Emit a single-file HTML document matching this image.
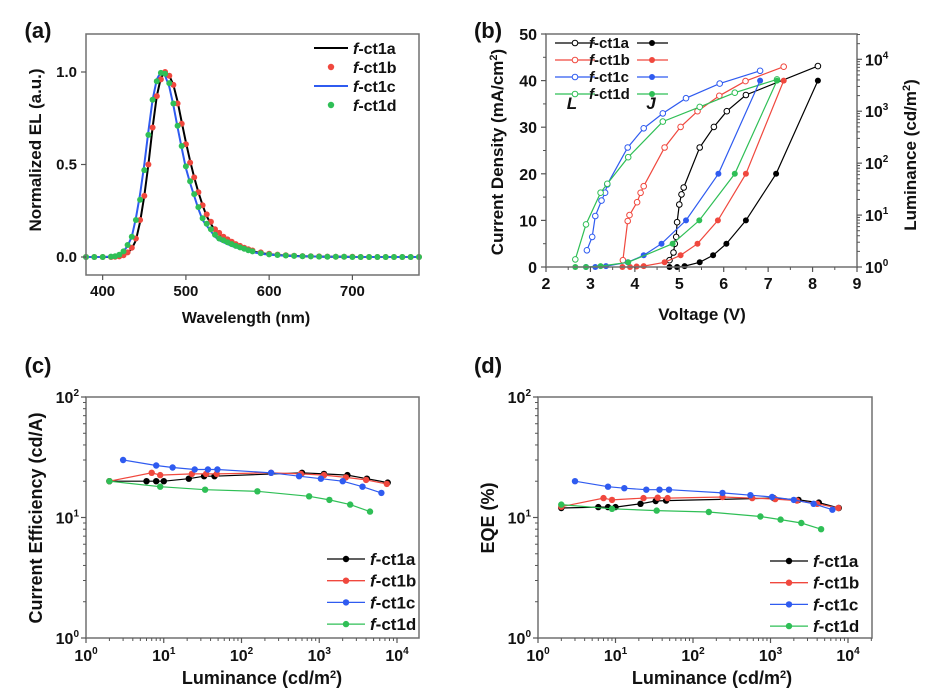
<!DOCTYPE html>
<html><head><meta charset="utf-8"><style>
body{margin:0;background:#fff;}
svg text{font-family:"Liberation Sans",Arial,sans-serif;font-weight:bold;}
</style></head><body>
<svg id="fig" width="940" height="694" viewBox="0 0 940 694" xmlns="http://www.w3.org/2000/svg"></svg>
<script>
// ---- Panel (a) data ----
const wlA=[380,390,400,410,415,420,425,430,435,440,445,450,455,460,465,470,475,480,485,490,495,500,505,510,515,520,525,530,535,540,545,550,555,560,565,570,575,580,590,600,610,620,630,640,650,660,670,680,690,700,710,720,730,740,750,760,770,780];
const elRed=[0,0,0,0,0.001,0.003,0.01,0.025,0.05,0.1,0.2,0.33,0.5,0.7,0.87,0.96,1.0,0.98,0.93,0.83,0.72,0.61,0.51,0.43,0.35,0.28,0.23,0.19,0.15,0.13,0.11,0.095,0.082,0.07,0.06,0.05,0.042,0.035,0.025,0.018,0.013,0.01,0.007,0.005,0.004,0.003,0.002,0.0015,0.001,0.001,0,0,0,0,0,0,0,0];
const elBlack=[0,0,0,0,0.001,0.003,0.01,0.022,0.045,0.09,0.19,0.33,0.5,0.7,0.87,0.97,1.0,0.98,0.93,0.84,0.73,0.62,0.52,0.43,0.35,0.28,0.22,0.18,0.14,0.12,0.1,0.085,0.072,0.062,0.052,0.044,0.037,0.03,0.021,0.015,0.011,0.008,0.006,0.004,0.003,0.002,0.0015,0.001,0.001,0,0,0,0,0,0,0,0,0];
const elGreen=[0,0,0,0.002,0.004,0.012,0.03,0.065,0.11,0.2,0.31,0.47,0.66,0.85,0.95,0.995,0.99,0.94,0.83,0.71,0.6,0.49,0.41,0.34,0.27,0.21,0.18,0.15,0.12,0.1,0.09,0.08,0.07,0.06,0.052,0.045,0.037,0.03,0.02,0.014,0.011,0.008,0.006,0.004,0.003,0.002,0.0015,0.001,0.001,0,0,0,0,0,0,0,0,0];
const elBlue=[0,0,0,0.002,0.004,0.012,0.03,0.06,0.11,0.21,0.34,0.5,0.68,0.85,0.96,1.0,0.98,0.92,0.82,0.7,0.59,0.48,0.4,0.33,0.26,0.2,0.17,0.14,0.11,0.09,0.08,0.07,0.06,0.052,0.045,0.039,0.033,0.027,0.018,0.013,0.01,0.007,0.005,0.004,0.003,0.002,0.0015,0.001,0.001,0,0,0,0,0,0,0,0,0];
const xTicksA=[400,500,600,700];
const yTicksA=[0.0,0.5,1.0];
// ---- Panel (b) data ----
const vJa=[4.78,4.95,5.12,5.46,5.76,6.06,6.5,7.18,8.12], jA=[0,0,0.2,1,2.5,5,10,20,40];
const vJb=[3.72,3.89,4.04,4.2,4.67,5.03,5.41,5.87,6.5,7.35], jB=[0,0,0.1,0.2,1,2.5,5,10,20,40];
const vJc=[2.9,3.11,3.35,3.84,4.2,4.6,5.15,5.88,6.82], jC=[0,0,0.2,1,2.5,5,10,20,40];
const vJd=[2.66,2.9,3.23,3.85,4.85,5.45,6.25,7.2], jD=[0,0,0.2,1,5,10,20,40];
const vLa=[4.78,4.87,4.9,4.93,4.95,5.0,5.05,5.1,5.46,5.78,6.07,6.5,8.12], lA=[1.35,1.9,2.8,3.8,7.3,16,25,34,200,500,1000,2050,7400];
const vLb=[3.73,3.84,3.88,4.05,4.13,4.2,4.67,5.03,5.41,5.9,6.49,7.35], lB=[1.35,7.7,10,17.7,26.8,36,200,500,1000,1980,3800,7200];
const vLc=[2.92,3.04,3.11,3.25,3.33,3.38,3.84,4.2,4.63,5.15,5.91,6.82], lC=[2.1,3.8,9.6,19,27,39,200,470,910,1780,3400,6000];
const vLd=[2.66,2.9,3.23,3.38,3.85,4.63,5.46,6.25,7.2], lD=[1.4,6.6,27,40,130,630,1210,2270,4100];
const xTicksB=[2,3,4,5,6,7,8,9];
const yTicksB=[0,10,20,30,40,50];
// ---- Panel (c) data ----
const ceLa=[2,6,8,10,21,33,45,600,1150,2300,4100,7600], ceA=[20,20,20,20,21,22,22,23.5,23,22.5,21,19.5];
const ceLb=[2,7,9,23,35,48,240,580,1150,2200,4000,7400], ceB=[20,23.5,22.5,23,23,23,23.5,23,22.5,21.5,20.5,19];
const ceLc=[3,8,13,25,37,49,240,550,1050,2000,3600,6300], ceC=[30,27,26,25,25,25,23.5,22,21,20,18,16];
const ceLd=[2,9,34,160,740,1350,2500,4500], ceD=[20,18,17,16.5,15,14,12.8,11.2];
// ---- Panel (d) data ----
const eqLa=[2,6,8,10,21,33,45,1100,2300,4200,7600], eqA=[12,12.2,12.2,12.2,13,13.7,13.8,14.5,14,13.3,12];
const eqLb=[2,7,9,23,35,47,240,580,1150,2200,4000,7500], eqB=[12.3,14.5,14,14.5,14.6,14.5,14.8,14.5,14.2,13.8,13,12];
const eqLc=[3,8,13,25,37,49,240,550,1050,2000,3600,6300], eqC=[20,18,17.5,17,17,17,16,15.3,14.8,14,13,11.6];
const eqLd=[2,9,34,160,740,1350,2500,4500], eqD=[12.8,11.8,11.4,11.1,10.2,9.6,9,8];
const series=["f-ct1a","f-ct1b","f-ct1c","f-ct1d"];

const NS="http://www.w3.org/2000/svg";
const svg=document.getElementById('fig');
const C={a:"#000000",b:"#f0483e",c:"#2f5bf0",d:"#2fbf56"};
function el(tag,attrs,parent,name){
  const e=document.createElementNS(NS,tag);
  for(const k in attrs)e.setAttribute(k,attrs[k]);
  
  
  (parent||svg).appendChild(e);return e;
}
function txt(x,y,s,size,anchor,parent,name,extra){
  const t=el('text',Object.assign({x:x,y:y,'font-size':size,'text-anchor':anchor||'middle',fill:'#111'},extra||{}),parent,name);
  t.innerHTML=s;return t;
}
function lin(d0,d1,p0,p1){return v=>p0+(v-d0)/(d1-d0)*(p1-p0);}
function lg(d0,d1,p0,p1){return v=>p0+(Math.log10(v)-d0)/(d1-d0)*(p1-p0);}
function frame(g,x0,y0,x1,y1){el('rect',{x:x0,y:y0,width:x1-x0,height:y1-y0,fill:'none',stroke:'#707070','stroke-width':1.5},g,'plot-frame');}
function poly(g,xs,ys,fx,fy,col,w,name){
  const pts=xs.map((v,i)=>fx(v).toFixed(1)+','+fy(ys[i]).toFixed(1)).join(' ');
  el('polyline',{points:pts,fill:'none',stroke:col,'stroke-width':w},g,name);
}
function dots(g,xs,ys,fx,fy,col,r,open,name){
  xs.forEach((v,i)=>{el('circle',{cx:fx(v).toFixed(1),cy:fy(ys[i]).toFixed(1),r:r,fill:open?'#fff':col,stroke:col,'stroke-width':open?1:0},g,name);});
}
function sup(base,e){return base+'<tspan dy="-7" font-size="10">'+e+'</tspan>';}
function logAxes(g,fx,fy,x0,y0,x1,y1){
  for(let e=0;e<=4;e++){
    const x=fx(Math.pow(10,e));
    el('line',{x1:x,y1:y1,x2:x,y2:y1+5,stroke:'#555','stroke-width':1.2},g,'x-tick');
    txt(x,y1+23,sup('10',e),16,'middle',g,'x-tick-label');
    for(let m=2;m<10;m++){const xm=fx(m*Math.pow(10,e));if(xm<x1){el('line',{x1:xm,y1:y1,x2:xm,y2:y1+3,stroke:'#555','stroke-width':1},g,'x-minor-tick');}}
  }
  for(let e=0;e<=2;e++){
    const y=fy(Math.pow(10,e));
    el('line',{x1:x0-5,y1:y,x2:x0,y2:y,stroke:'#555','stroke-width':1.2},g,'y-tick');
    txt(x0-7,y+6,sup('10',e),16,'end',g,'y-tick-label');
    if(e<2)for(let m=2;m<10;m++){const ym=fy(m*Math.pow(10,e));el('line',{x1:x0-3,y1:ym,x2:x0,y2:ym,stroke:'#555','stroke-width':1},g,'y-minor-tick');}
  }
}
function legendLD(g,lx,ly0,dy,tx){
  series.forEach((s,i)=>{
    const col=C['abcd'[i]],y=ly0+i*dy;
    el('line',{x1:lx,y1:y,x2:lx+38,y2:y,stroke:col,'stroke-width':1.3},g,'legend-line-'+s);
    el('circle',{cx:lx+19,cy:y,r:3.2,fill:col},g,'legend-marker-'+s);
    txt(tx,y+6,'<tspan font-style="italic">f</tspan>-ct1'+'abcd'[i],17,'start',g,'legend-label-'+s);
  });
}

// ===== Panel (a) =====
(function(){
  const g=el('g',{},svg,'panel-a');
  const x0=86,x1=419,y0=34,y1=275;
  const fx=lin(380,780,x0,x1), fy=lin(0,1,257,72);
  txt(38,38,'(a)',22,'middle',g,'panel-label-a');
  const cg=el('g',{},g,'el-spectra');
  poly(cg,wlA,elBlack,fx,fy,C.a,2,'line-f-ct1a');
  poly(cg,wlA,elBlue,fx,fy,C.c,2,'line-f-ct1c');
  dots(cg,wlA,elRed,fx,fy,C.b,3,false,'dot-f-ct1b');
  dots(cg,wlA,elGreen,fx,fy,C.d,3,false,'dot-f-ct1d');
  frame(g,x0,y0,x1,y1);
  xTicksA.forEach(v=>{const x=fx(v);el('line',{x1:x,y1:y1,x2:x,y2:y1+5,stroke:'#555','stroke-width':1.2},g,'x-tick');txt(x,y1+21,v,15,'middle',g,'x-tick-label');});
  yTicksA.forEach(v=>{const y=fy(v);el('line',{x1:x0-5,y1:y,x2:x0,y2:y,stroke:'#555','stroke-width':1.2},g,'y-tick');txt(x0-9,y+5,v.toFixed(1),15,'end',g,'y-tick-label');});
  txt(246,323,'Wavelength (nm)',16,'middle',g,'x-axis-title');
  txt(0,0,'Normalized EL (a.u.)',17,'middle',g,'y-axis-title',{transform:'translate(41,150) rotate(-90)'});
  const leg=el('g',{},g,'legend-a');
  [['a',true],['b',false],['c',true],['d',false]].forEach((s,i)=>{
    const y=48+i*19,col=C[s[0]];
    if(s[1])el('line',{x1:314,y1:y,x2:348,y2:y,stroke:col,'stroke-width':2},leg,'legend-line-f-ct1'+s[0]);
    else el('circle',{cx:331,cy:y,r:3.2,fill:col},leg,'legend-dot-f-ct1'+s[0]);
    txt(353,y+6,'<tspan font-style="italic">f</tspan>-ct1'+s[0],16,'start',leg,'legend-label-f-ct1'+s[0]);
  });
})();

// ===== Panel (b) =====
(function(){
  const g=el('g',{},svg,'panel-b');
  const x0=546,x1=857,y0=34,y1=267;
  const fx=lin(2,9,x0,x1), fy=lin(0,50,y1,y0), fl=lg(0,4,y1,59.3);
  txt(488,38,'(b)',22,'middle',g,'panel-label-b');
  const J=[[vJa,jA,'a'],[vJb,jB,'b'],[vJc,jC,'c'],[vJd,jD,'d']];
  const L=[[vLa,lA,'a'],[vLb,lB,'b'],[vLc,lC,'c'],[vLd,lD,'d']];
  L.forEach(s=>{poly(g,s[0],s[1],fx,fl,C[s[2]],1.2,'luminance-line-f-ct1'+s[2]);dots(g,s[0],s[1],fx,fl,C[s[2]],2.8,true,'luminance-point-f-ct1'+s[2]);});
  J.forEach(s=>{poly(g,s[0],s[1],fx,fy,C[s[2]],1.2,'current-line-f-ct1'+s[2]);dots(g,s[0],s[1],fx,fy,C[s[2]],3,false,'current-point-f-ct1'+s[2]);});
  frame(g,x0,y0,x1,y1);
  xTicksB.forEach(v=>{const x=fx(v);el('line',{x1:x,y1:y1,x2:x,y2:y1+5,stroke:'#555','stroke-width':1.2},g,'x-tick');txt(x,y1+22,v,16,'middle',g,'x-tick-label');});
  for(let v=2.5;v<9;v+=1){const x=fx(v);el('line',{x1:x,y1:y1,x2:x,y2:y1+3,stroke:'#555'},g,'x-minor-tick');}
  yTicksB.forEach(v=>{const y=fy(v);el('line',{x1:x0-5,y1:y,x2:x0,y2:y,stroke:'#555','stroke-width':1.2},g,'y-tick');txt(x0-9,y+6,v,16,'end',g,'y-tick-label');});
  for(let v=5;v<50;v+=10){const y=fy(v);el('line',{x1:x0-3,y1:y,x2:x0,y2:y,stroke:'#555'},g,'y-minor-tick');}
  for(let e=0;e<=4;e++){const y=fl(Math.pow(10,e));el('line',{x1:x1,y1:y,x2:x1+5,y2:y,stroke:'#555','stroke-width':1.2},g,'y2-tick');txt(x1+8,y+6,sup('10',e),16,'start',g,'y2-tick-label');
    for(let m=2;m<10;m++){const ym=fl(m*Math.pow(10,e));if(ym>y0)el('line',{x1:x1,y1:ym,x2:x1+3,y2:ym,stroke:'#555'},g,'y2-minor-tick');}}
  txt(702,320,'Voltage (V)',17,'middle',g,'x-axis-title');
  txt(0,0,'Current Density (mA/cm<tspan dy="-6" font-size="11">2</tspan><tspan dy="6">)</tspan>',17,'middle',g,'y-axis-title',{transform:'translate(503,152) rotate(-90)'});
  txt(0,0,'Luminance (cd/m<tspan dy="-6" font-size="11">2</tspan><tspan dy="6">)</tspan>',17,'middle',g,'y2-axis-title',{transform:'translate(916,155) rotate(-90)'});
  const leg=el('g',{},g,'legend-b');
  series.forEach((s,i)=>{const col=C['abcd'[i]],y=43+i*17;
    el('line',{x1:555,y1:y,x2:595,y2:y,stroke:col,'stroke-width':1.2},leg,'legend-L-line-'+s);
    el('circle',{cx:575,cy:y,r:2.8,fill:'#fff',stroke:col},leg,'legend-L-marker-'+s);
    txt(589,y+5,'<tspan font-style="italic">f</tspan>-ct1'+'abcd'[i],15,'start',leg,'legend-label-'+s);
    el('line',{x1:637,y1:y,x2:668,y2:y,stroke:col,'stroke-width':1.2},leg,'legend-J-line-'+s);
    el('circle',{cx:652,cy:y,r:3,fill:col},leg,'legend-J-marker-'+s);
  });
  txt(572,109,'L',17,'middle',leg,'legend-L-caption',{'font-style':'italic','font-weight':'normal'});
  txt(651,109,'J',17,'middle',leg,'legend-J-caption',{'font-style':'italic','font-weight':'normal'});
})();

// ===== Panel (c) =====
(function(){
  const g=el('g',{},svg,'panel-c');
  const x0=86,x1=419,y0=397,y1=638;
  const fx=lg(0,4,86,397), fy=lg(0,2,y1,y0);
  txt(38,373,'(c)',22,'middle',g,'panel-label-c');
  [[ceLa,ceA,'a'],[ceLb,ceB,'b'],[ceLc,ceC,'c'],[ceLd,ceD,'d']].forEach(s=>{poly(g,s[0],s[1],fx,fy,C[s[2]],1.2,'ce-line-f-ct1'+s[2]);dots(g,s[0],s[1],fx,fy,C[s[2]],3.2,false,'ce-point-f-ct1'+s[2]);});
  frame(g,x0,y0,x1,y1);
  logAxes(g,fx,fy,x0,y0,x1,y1);
  txt(262,684,'Luminance (cd/m<tspan dy="-6" font-size="11">2</tspan><tspan dy="6">)</tspan>',18,'middle',g,'x-axis-title');
  txt(0,0,'Current Efficiency (cd/A)',18,'middle',g,'y-axis-title',{transform:'translate(42,518) rotate(-90)'});
  legendLD(el('g',{},g,'legend-c'),327,559,21.7,370);
})();

// ===== Panel (d) =====
(function(){
  const g=el('g',{},svg,'panel-d');
  const x0=538,x1=872,y0=397,y1=638;
  const fx=lg(0,4,538,848), fy=lg(0,2,y1,y0);
  txt(488,373,'(d)',22,'middle',g,'panel-label-d');
  [[eqLa,eqA,'a'],[eqLb,eqB,'b'],[eqLc,eqC,'c'],[eqLd,eqD,'d']].forEach(s=>{poly(g,s[0],s[1],fx,fy,C[s[2]],1.2,'eqe-line-f-ct1'+s[2]);dots(g,s[0],s[1],fx,fy,C[s[2]],3.2,false,'eqe-point-f-ct1'+s[2]);});
  frame(g,x0,y0,x1,y1);
  logAxes(g,fx,fy,x0,y0,x1,y1);
  txt(712,684,'Luminance (cd/m<tspan dy="-6" font-size="11">2</tspan><tspan dy="6">)</tspan>',18,'middle',g,'x-axis-title');
  txt(0,0,'EQE (%)',18,'middle',g,'y-axis-title',{transform:'translate(494,518) rotate(-90)'});
  legendLD(el('g',{},g,'legend-d'),770,561,21.7,813);
})();
</script>
</body></html>
